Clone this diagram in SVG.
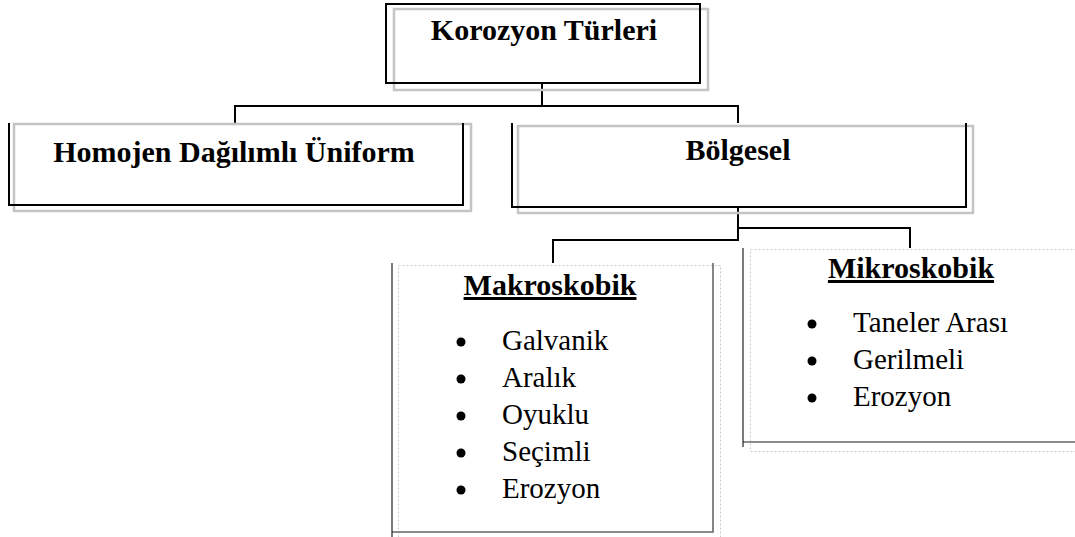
<svg xmlns="http://www.w3.org/2000/svg" width="1075" height="537" viewBox="0 0 1075 537">
<style>
.blk{fill:none;stroke:#000;stroke-width:2}
.shd{fill:none;stroke:#c4c4c4;stroke-width:2.5}
.dk{fill:none;stroke:#666;stroke-width:1.6}
.lft{fill:none;stroke:#222;stroke-width:1.2}
.dot{fill:none;stroke:#c8c8c8;stroke-width:1;stroke-dasharray:2 2}
.h{font-family:"Liberation Serif","Times New Roman",serif;font-weight:bold;font-size:30px;fill:#000;text-anchor:middle}
.u{text-decoration:underline}
.it{font-family:"Liberation Serif","Times New Roman",serif;font-size:29px;fill:#000}
.con{fill:none;stroke:#000;stroke-width:2}
</style>
<rect width="1075" height="537" fill="#fff"/>
<g id="connectors">
<path class="con" d="M542,83 V106 M235,106 H738 M235,105 V123 M738,105 V123"/>
<path class="con" d="M738,207 V240 M553,240 H739 M553,239 V263 M738,228 H910 V248"/>
</g>
<g id="korozyon">
<rect class="shd" x="394" y="9" width="314" height="81"/>
<rect class="blk" x="386" y="4" width="314" height="79"/>
<text class="h" x="544" y="40">Korozyon Türleri</text>
</g>
<g id="homojen">
<rect class="shd" x="14" y="124" width="457" height="87"/>
<path class="blk" d="M9,123 V205 H463 V123"/>
<text class="h" x="234" y="162">Homojen Dağılımlı Üniform</text>
</g>
<g id="bolgesel">
<rect class="shd" x="518" y="126" width="455" height="87"/>
<path class="blk" d="M512,123 V207 H966 V123"/>
<text class="h" x="738" y="160">Bölgesel</text>
</g>
<g id="makroskobik">
<rect class="dot" x="398.5" y="265.5" width="322" height="280"/>
<path class="dk" d="M392,532 H713 V263"/>
<path class="lft" d="M392,263 V537"/>
<text class="h u" x="550" y="295">Makroskobik</text>
<g class="it">
<circle cx="461" cy="342" r="4.5"/><text x="502" y="350">Galvanik</text>
<circle cx="461" cy="379" r="4.5"/><text x="502" y="387">Aralık</text>
<circle cx="461" cy="416" r="4.5"/><text x="502" y="424">Oyuklu</text>
<circle cx="461" cy="453" r="4.5"/><text x="502" y="461">Seçimli</text>
<circle cx="461" cy="490" r="4.5"/><text x="502" y="498">Erozyon</text>
</g>
</g>
<g id="mikroskobik">
<rect class="dot" x="750.5" y="249.5" width="340" height="202"/>
<path class="dk" d="M743,442 H1075"/>
<path class="lft" d="M743,248 V447"/>
<text class="h u" x="911" y="278">Mikroskobik</text>
<g class="it">
<circle cx="812" cy="324" r="4.5"/><text x="853" y="332">Taneler Arası</text>
<circle cx="812" cy="361" r="4.5"/><text x="853" y="369">Gerilmeli</text>
<circle cx="812" cy="398" r="4.5"/><text x="853" y="406">Erozyon</text>
</g>
</g>
</svg>
